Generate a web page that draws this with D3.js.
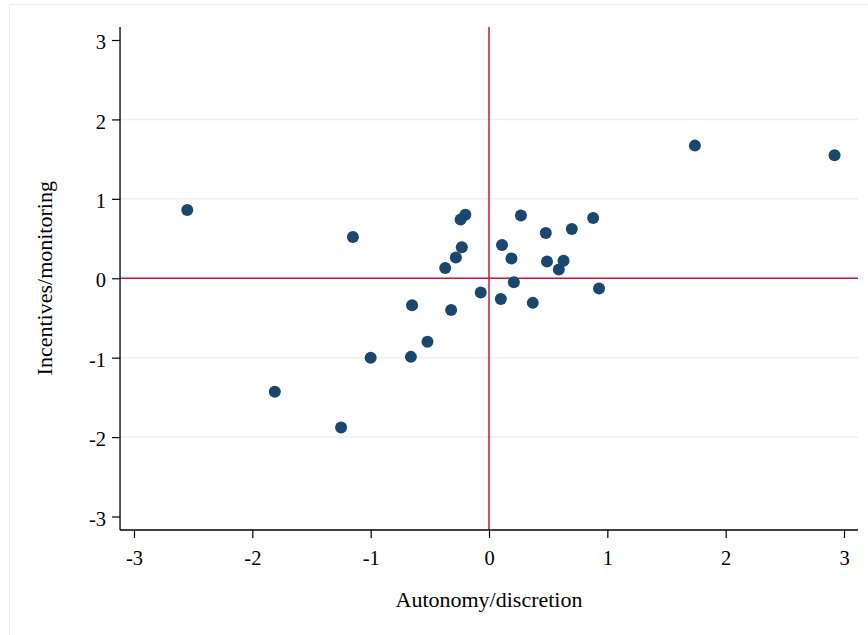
<!DOCTYPE html>
<html>
<head>
<meta charset="utf-8">
<script src="https://cdn.jsdelivr.net/npm/d3@7"></script>
<style>
  body { margin: 0; background: #fff; }
  svg { display: block; font-family: "Liberation Serif", "Times New Roman", serif; }
</style>
</head>
<body>
<svg id="svg" width="868" height="635"></svg>
<script>
// data
var autonomy = [-2.55, -1.81, -1.25, -1.15, -1.00, -0.65, -0.66, -0.52, -0.37, -0.32,
                -0.28, -0.23, -0.24, -0.20, -0.07, 0.11, 0.10, 0.19, 0.21, 0.27,
                0.37, 0.48, 0.49, 0.59, 0.63, 0.70, 0.88, 0.93, 1.74, 2.92];
var incentives = [0.86, -1.43, -1.88, 0.52, -1.00, -0.34, -0.99, -0.80, 0.13, -0.40,
                  0.26, 0.39, 0.74, 0.80, -0.18, 0.42, -0.26, 0.25, -0.05, 0.79,
                  -0.31, 0.57, 0.21, 0.11, 0.22, 0.62, 0.76, -0.13, 1.67, 1.55];
var xTicks = [-3, -2, -1, 0, 1, 2, 3];
var yTicks = [-3, -2, -1, 0, 1, 2, 3];
var gridTicks = [-2, -1, 1, 2];
var xTitle = 'Autonomy/discretion';
var yTitle = 'Incentives/monitoring';

var svg = d3.select('#svg');
var width = 868, height = 635;

var x = d3.scaleLinear().domain([-3, 3]).range([134, 844]);
var y = d3.scaleLinear().domain([-3, 3]).range([516.5, 40]);
var xLo = -3.118, xHi = 3.118;   // axis line extent
var yLo = -3.17, yHi = 3.165;

// outer graph region frame (left and top only visible)
svg.append('line').attr('x1', 9.5).attr('x2', 9.5).attr('y1', 4.5).attr('y2', height)
   .style('stroke', '#e4ecf0');
svg.append('line').attr('x1', 9.5).attr('x2', width).attr('y1', 4.5).attr('y2', 4.5)
   .style('stroke', '#e4ecf0');

// gridlines
svg.selectAll('.grid').data(gridTicks).join('line')
   .attr('class', 'grid')
   .attr('x1', x(xLo)).attr('x2', x(xHi))
   .attr('y1', d => y(d)).attr('y2', d => y(d))
   .style('stroke', '#eaf2f3').style('stroke-width', 1.5);

// reference lines at zero
svg.append('line').attr('x1', x(xLo)).attr('x2', x(xHi)).attr('y1', y(0)).attr('y2', y(0))
   .style('stroke', '#d0103a').style('stroke-width', 1.5);
svg.append('line').attr('x1', x(0)).attr('x2', x(0)).attr('y1', y(yHi)).attr('y2', y(yLo))
   .style('stroke', '#d0103a').style('stroke-width', 1.5);

// points
svg.selectAll('.pt').data(autonomy).join('circle')
   .attr('class', 'pt')
   .attr('cx', d => x(d))
   .attr('cy', (d, i) => y(incentives[i]))
   .attr('r', 6)
   .attr('fill', '#1a476f');

// axes (plain hyphen minus like the original)
var fmt = d => String(d);

var xAxis = d3.axisBottom(x).tickValues(xTicks).tickSize(8).tickPadding(12).tickFormat(fmt);
var gx = svg.append('g').attr('transform', 'translate(0,' + y(yLo) + ')').call(xAxis);
gx.select('.domain').remove();
gx.selectAll('.tick line').style('stroke', '#000').style('stroke-width', 1.2);
gx.selectAll('text').style('font-size', '20.5px').style('fill', '#000')
   .style('font-family', '"Liberation Serif", serif');

var yAxis = d3.axisLeft(y).tickValues(yTicks).tickSize(8).tickPadding(6).tickFormat(fmt);
var gy = svg.append('g').attr('transform', 'translate(' + x(xLo) + ',0)').call(yAxis);
gy.select('.domain').remove();
gy.selectAll('.tick line').style('stroke', '#000').style('stroke-width', 1.2);
gy.selectAll('text').style('font-size', '20.5px').style('fill', '#000')
   .attr('dy', '0.42em')
   .style('font-family', '"Liberation Serif", serif');

svg.append('line').attr('x1', x(xLo)).attr('x2', x(xHi)).attr('y1', y(yLo)).attr('y2', y(yLo))
   .style('stroke', '#000').style('stroke-width', 1.3);
svg.append('line').attr('x1', x(xLo)).attr('x2', x(xLo)).attr('y1', y(yHi)).attr('y2', y(yLo))
   .style('stroke', '#000').style('stroke-width', 1.3);

// axis titles
svg.append('text')
   .attr('x', x(0)).attr('y', 607)
   .style('text-anchor', 'middle').style('font-size', '22px')
   .text(xTitle);

svg.append('text')
   .attr('transform', 'translate(52,' + y(0) + ') rotate(-90)')
   .style('text-anchor', 'middle').style('font-size', '22px')
   .text(yTitle);
</script>
</body>
</html>
